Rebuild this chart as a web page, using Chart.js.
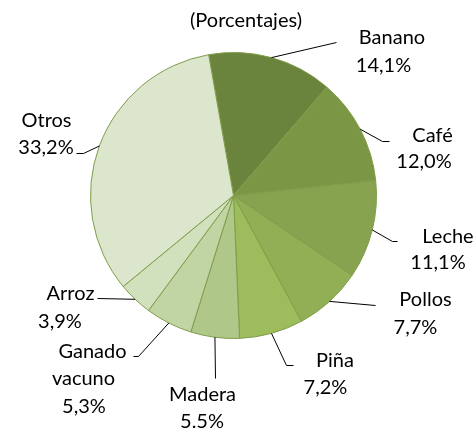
<!DOCTYPE html>
<html>
<head>
<meta charset="utf-8">
<script src="https://cdn.jsdelivr.net/npm/chart.js@4.4.1/dist/chart.umd.min.js"></script>
<style>
  html, body { margin: 0; padding: 0; background: #ffffff; }
  #wrap { width: 474px; height: 428px; position: relative; }
</style>
</head>
<body>
<div id="wrap"><canvas id="c" width="474" height="428"></canvas></div>
<script>
// ---- data ----
const titleText = '(Porcentajes)';
const categories = ['Banano', 'Café', 'Leche', 'Pollos', 'Piña', 'Madera', 'Ganado vacuno', 'Arroz', 'Otros'];
const values = [14.1, 12.0, 11.1, 7.7, 7.2, 5.5, 5.3, 3.9, 33.2];
const percentLabels = ['14,1%', '12,0%', '11,1%', '7,7%', '7,2%', '5.5%', '5,3%', '3,9%', '33,2%'];

// ---- styles ----
const sliceColors = ['#6b843d', '#7b9746', '#87a34f', '#91b056', '#9dbc5b', '#afc88a', '#c0d5a3', '#d1e0bd', '#dce6cd'];
const FONT = '20px Lato, "Open Sans", sans-serif';

// label layout: offsets from pie centre (leader points, and per-line text centre / baseline)
const labelLayout = [
  { leader: [[103, -153]], wrap: false, lines: [[158.5, -152], [150, -124]] },
  { leader: [[149, -54], [156, -54]], wrap: false, lines: [[199, -54], [190.5, -28]] },
  { leader: [[159, 46], [164, 46]], wrap: false, lines: [[214.5, 47], [204.5, 73]] },
  { leader: [[142, 110]], wrap: false, lines: [[192, 110], [182, 138]] },
  { leader: [[53, 170], [60, 170]], wrap: false, lines: [[101.5, 171], [92, 198]] },
  { leader: [[-18, 183]], wrap: false, lines: [[-31, 205], [-31.5, 232]] },
  { leader: [[-95, 161], [-100, 161]], wrap: true, lines: [[-141, 162], [-150, 189], [-149.5, 217]] },
  { leader: [[-136, 103]], wrap: false, lines: [[-163, 104], [-173.5, 132]] },
  { leader: [[-150, -42], [-157, -42]], wrap: false, lines: [[-187, -69], [-187.5, -42]] }
];

const labelPlugin = {
  id: 'outLabels',
  afterDraw(chart) {
    const ctx = chart.ctx;
    const meta = chart.getDatasetMeta(0);
    ctx.save();
    // title
    ctx.font = FONT;
    ctx.fillStyle = '#000000';
    ctx.textAlign = 'center';
    ctx.textBaseline = 'alphabetic';
    ctx.fillText(titleText, 246, 27);

    meta.data.forEach((arc, i) => {
      const p = arc.getProps(['x', 'y', 'startAngle', 'endAngle', 'outerRadius'], true);
      const cx = p.x, cy = p.y;
      const mid = (p.startAngle + p.endAngle) / 2;
      const lay = labelLayout[i];
      // leader line
      ctx.beginPath();
      ctx.strokeStyle = '#000000';
      ctx.lineWidth = 1;
      ctx.moveTo(cx + Math.cos(mid) * p.outerRadius, cy + Math.sin(mid) * p.outerRadius);
      lay.leader.forEach(pt => ctx.lineTo(cx + pt[0], cy + pt[1]));
      ctx.stroke();
      // text
      const texts = (lay.wrap ? categories[i].split(' ') : [categories[i]]).concat([percentLabels[i]]);
      ctx.font = FONT;
      ctx.fillStyle = '#000000';
      ctx.textAlign = 'center';
      texts.forEach((t, k) => {
        const pos = lay.lines[k];
        ctx.fillText(t, cx + pos[0], cy + pos[1]);
      });
    });
    ctx.restore();
  }
};

new Chart(document.getElementById('c'), {
  type: 'pie',
  data: {
    labels: categories,
    datasets: [{
      data: values,
      backgroundColor: sliceColors,
      borderColor: '#7f9c48',
      borderWidth: 1
    }]
  },
  options: {
    responsive: false,
    animation: false,
    rotation: -10,
    layout: { padding: { left: 90, right: 97, top: 52, bottom: 89 } },
    plugins: {
      legend: { display: false },
      tooltip: { enabled: false },
      title: { display: false }
    }
  },
  plugins: [labelPlugin]
});
</script>
</body>
</html>
